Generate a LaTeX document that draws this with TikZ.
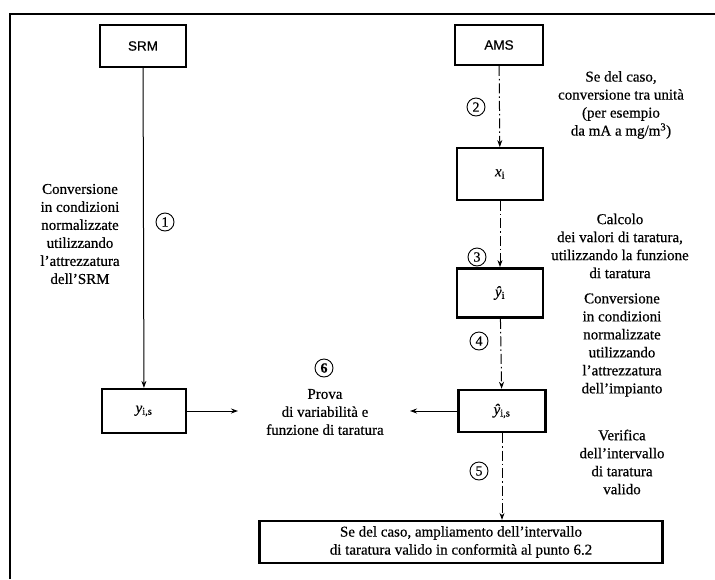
\documentclass[tikz,border=0pt]{standalone}
\usepackage{fontspec}
\setmainfont[FakeBold=0.5]{Liberation Serif}
\newfontfamily\arialf[FakeBold=0.5]{Liberation Sans}
\usetikzlibrary{arrows.meta}
\tikzset{
  box/.style={draw, line width=1.8pt, inner sep=0pt, minimum width=86pt, minimum height=42pt, font=\fontsize{15}{18}\selectfont},
  thickbox/.style={box, line width=2.8pt},
  lbl/.style={align=center, inner sep=0pt, font=\fontsize{15}{18}\selectfont},
  num/.style={circle, draw, line width=0.9pt, inner sep=0pt, minimum size=18pt, font=\fontsize{14}{14}\selectfont},
  flow/.style={-{Stealth[length=7pt,width=5pt]}, line width=1pt},
  amsflow/.style={flow, dash pattern=on 10pt off 3pt on 1.5pt off 3pt}
}
\begin{document}
\begin{tikzpicture}[x=1pt,y=-1pt]
\useasboundingbox (0,0) rectangle (715,579);
% frame
\draw[line width=2.4pt] (10,579) -- (10,14) -- (715,14);
% boxes
\node[box, line width=2.4pt, minimum width=86pt, minimum height=42pt, font=\arialf\fontsize{13.5}{15}\selectfont] (srm) at (143,46) {SRM};
\node[box, minimum width=88pt, minimum height=40pt, font=\arialf\fontsize{13.5}{15}\selectfont] (ams) at (499,45) {AMS};
\node[box, minimum width=86pt, minimum height=52pt] (xi) at (500,174) {\textit{x}\textsubscript{i}};
\node[thickbox, minimum width=86pt, minimum height=49pt] (yhi) at (500,293) {\textit{ŷ}\textsubscript{i}};
\node[thickbox, line width=2.4pt, minimum width=87pt, minimum height=42pt] (yhis) at (502,411) {\textit{ŷ}\textsubscript{i,s}};
\node[box, line width=2.2pt, minimum width=84pt, minimum height=44pt] (yis) at (144,411) {\textit{y}\textsubscript{i,s}};
\node[box, line width=2.2pt, minimum width=403pt, minimum height=42pt, align=center] (ext) at (461,542) {Se del caso, ampliamento dell'intervallo\\di taratura valido in conformità al punto 6.2};
% test node
\node[num] (n6) at (324,368) {\textbf{6}};
\node[lbl] (prova) at (325,412) {Prova\\di variabilità e\\funzione di taratura};
% connectors
\draw[flow] (srm) -- (yis);
\draw[amsflow] (ams) -- (xi);
\draw[amsflow] (xi) -- (yhi);
\draw[amsflow] (yhi) -- (yhis);
\draw[amsflow] (yhis) -- (yhis |- ext.north);
\coordinate (pl) at (238,411);
\coordinate (pr) at (410,411);
\draw[flow] (yis.east) -- (pl);
\draw[flow] (yhis.west) -- (pr);
% step numbers
\node[num] (n1) at (165,222) {1};
\node[num] (n2) at (476,107) {2};
\node[num] (n3) at (477,257) {3};
\node[num] (n4) at (479,341) {4};
\node[num] (n5) at (479,471) {5};
% labels
\node[lbl] (l1) at (80,234) {Conversione\\in condizioni\\normalizzate\\utilizzando\\l'attrezzatura\\dell'SRM};
\node[lbl] (l2) at (621,105) {Se del caso,\\conversione tra unità\\(per esempio\\da mA a mg/m\textsuperscript{3})};
\node[lbl] (l3) at (620,246) {Calcolo\\dei valori di taratura,\\utilizzando la funzione\\di taratura};
\node[lbl] (l4) at (622,345) {Conversione\\in condizioni\\normalizzate\\utilizzando\\l'attrezzatura\\dell'impianto};
\node[lbl] (l5) at (622,462) {Verifica\\dell'intervallo\\di taratura\\valido};
\end{tikzpicture}
\end{document}
